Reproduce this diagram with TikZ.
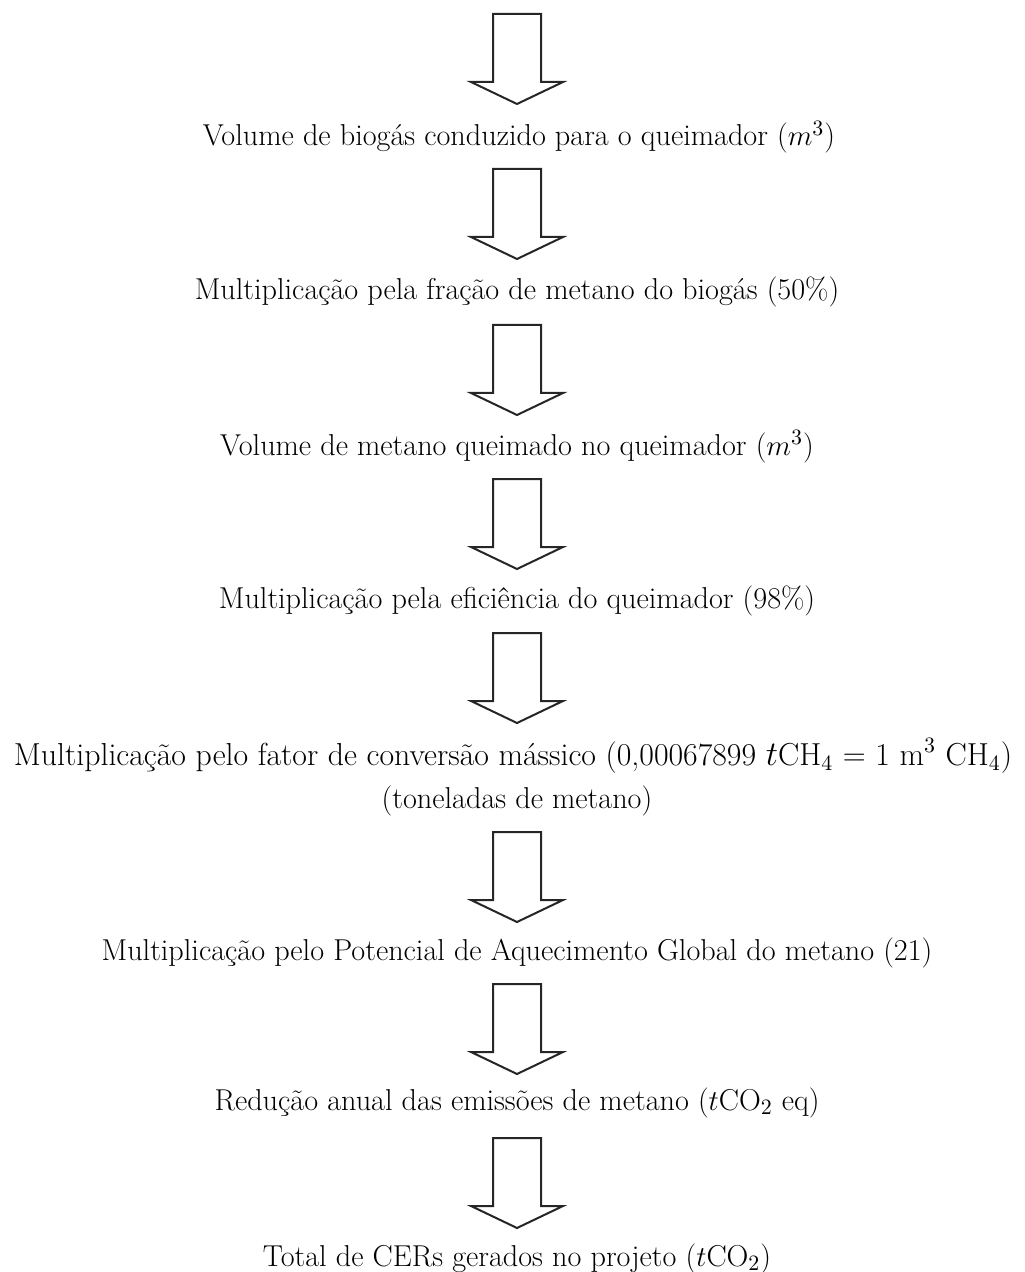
\documentclass[tikz,border=0pt]{standalone}
\usepackage{fontspec}
\begin{document}
\begin{tikzpicture}[x=0.5pt,y=-0.5pt,
  lbl/.style={anchor=base,inner sep=0pt,font=\fontsize{15.1}{18}\selectfont},
  widelbl/.style={lbl,font=\fontsize{15.9}{18}\selectfont},
  blk/.style={draw=black!85,line width=1pt,line join=miter,fill=white}]
\useasboundingbox (0,0) rectangle (1024,1272);
% block arrow drawn downward from its top centre
\newcommand\downblock[1]{%
  \draw[blk,shift={(#1)}] (-24,0) -- (24,0) -- (24,68) -- (46,68) -- (0,90)
    -- (-46,68) -- (-24,68) -- cycle;}

\coordinate (a1) at (517,14);
\coordinate (a2) at (517,169);
\coordinate (a3) at (517,325);
\coordinate (a4) at (517,479);
\coordinate (a5) at (517,633);
\coordinate (a6) at (517,832);
\coordinate (a7) at (517,984);
\coordinate (a8) at (517,1138);

\node[lbl] (t1) at (519,146) {Volume de biogás conduzido para o queimador ($m^3$)};
\node[lbl] (t2) at (517,300) {Multiplicação pela fração de metano do biogás (50\%)};
\node[lbl] (t3) at (517,455) {Volume de metano queimado no queimador ($m^3$)};
\node[lbl] (t4) at (517,608) {Multiplicação pela eficiência do queimador (98\%)};
\node[widelbl] (t5) at (513,765) {Multiplicação pelo fator de conversão mássico (0,00067899 $t$CH$_4$ = 1 m$^3$ CH$_4$)};
\node[lbl] (t5b) at (517,808) {(toneladas de metano)};
\node[lbl] (t6) at (517,960) {Multiplicação pelo Potencial de Aquecimento Global do metano (21)};
\node[lbl] (t7) at (517,1110) {Redução anual das emissões de metano ($t$CO$_2$ eq)};
\node[lbl] (t8) at (517,1266) {Total de CERs gerados no projeto ($t$CO$_2$)};

\foreach \a in {a1,a2,a3,a4,a5,a6,a7,a8} {\downblock{\a}}
\end{tikzpicture}
\end{document}
